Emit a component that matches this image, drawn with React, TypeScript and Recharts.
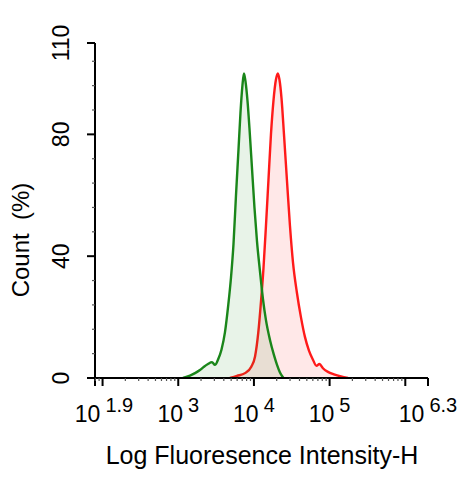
import React from 'react';
import { ComposedChart, Area, XAxis, YAxis } from 'recharts';

// Log10 of fluorescence intensity and Count (%) for each histogram
const greenLogX = [3.062, 3.155, 3.221, 3.287, 3.34, 3.393, 3.446, 3.485, 3.525, 3.571, 3.617, 3.661, 3.697, 3.73, 3.763, 3.796, 3.822, 3.848, 3.868, 3.888, 3.915, 3.941, 3.974, 4.007, 4.04, 4.08, 4.119, 4.159, 4.212, 4.265, 4.304, 4.344, 4.39];
const greenCount = [0, 0.8, 1.6, 2.6, 3.7, 4.6, 5.2, 4.3, 6, 9.3, 15, 24, 33, 44, 60, 75, 87, 96, 100, 97.5, 91, 82, 69, 56, 45, 35, 26, 19, 12.5, 7.5, 4.4, 1.8, 0];

const redLogX = [3.683, 3.776, 3.882, 3.967, 4.014, 4.057, 4.093, 4.126, 4.159, 4.192, 4.225, 4.258, 4.291, 4.316, 4.337, 4.364, 4.397, 4.436, 4.476, 4.516, 4.568, 4.621, 4.674, 4.727, 4.78, 4.826, 4.866, 4.912, 4.978, 5.057, 5.15, 5.242];
const redCount = [0, 0.7, 1.6, 3.8, 7, 14.8, 25, 36, 50, 65, 80, 91, 98, 100, 98, 92, 80, 65, 50, 38, 28, 20, 13.5, 9, 6, 4, 4.6, 3.2, 2, 1.2, 0.5, 0];

const xLabelExps = [1.9, 3, 4, 5, 6.3];
const xLabelTexts = ['1.9', '3', '4', '5', '6.3'];
const xMajorExps = [1.9, 2, 3, 4, 5, 6, 6.3];
const yLabelTicks = [0, 40, 80, 110];
const yLabelTexts = ['0', '40', '80', '110'];
const yMinorTicks = [8, 16, 24, 32, 48, 56, 64, 72, 88, 96, 104];

const xTitle = 'Log Fluoresence Intensity-H';
const yTitle = 'Count\u00A0\u00A0(%)';

const FONT = '"Liberation Sans", Arial, Helvetica, sans-serif';
const W = 476;
const H = 479;

function buildRows() {
  const map = new Map<number, any>();
  greenLogX.forEach((x, i) => {
    const r = map.get(x) ?? { x };
    r.green = greenCount[i];
    map.set(x, r);
  });
  redLogX.forEach((x, i) => {
    const r = map.get(x) ?? { x };
    r.red = redCount[i];
    map.set(x, r);
  });
  return Array.from(map.values()).sort((a, b) => a.x - b.x);
}

const rows = buildRows();

const xMinor: number[] = [];
for (let n = 1; n <= 6; n++) {
  for (let k = 2; k <= 9; k++) {
    const v = Math.round((n + Math.log10(k)) * 10000) / 10000;
    if (v > 1.9 && v < 6.3) xMinor.push(v);
  }
}
const xTicks = Array.from(new Set([...xMajorExps, ...xMinor])).sort((a, b) => a - b);
const yTicks = [...yMinorTicks, ...yLabelTicks].sort((a, b) => a - b);

const near = (a: number, b: number) => Math.abs(a - b) < 1e-6;

const XTick = (props: any) => {
  const { x, y, payload } = props;
  const v = payload.value;
  const major = xMajorExps.some((m) => near(m, v));
  const li = xLabelExps.findIndex((m) => near(m, v));
  const shift = li === 0 ? 9 : 0;
  return (
    <g>
      <line x1={x} x2={x} y1={y} y2={y + (major ? 8 : 3)} stroke={major ? '#000' : '#555'} strokeWidth={major ? 2 : 1.2} />
      {li >= 0 && (
        <text x={x + shift} y={y + 44} textAnchor="middle" fontFamily={FONT} fill="#000">
          <tspan fontSize={23}>10</tspan>
          <tspan fontSize={20} dx={5} dy={-10}>{xLabelTexts[li]}</tspan>
        </text>
      )}
    </g>
  );
};

const YTick = (props: any) => {
  const { x, y, payload } = props;
  const v = payload.value;
  const li = yLabelTicks.findIndex((m) => near(m, v));
  const major = li >= 0;
  const cx = x - 34;
  return (
    <g>
      <line x1={x} x2={x - (major ? 8 : 3)} y1={y} y2={y} stroke={major ? '#000' : '#555'} strokeWidth={major ? 2 : 1.2} />
      {major && (
        <text
          x={cx}
          y={y}
          dy="0.35em"
          textAnchor="middle"
          fontSize={23}
          fontFamily={FONT}
          fill="#000"
          transform={`rotate(-90, ${cx}, ${y})`}
        >
          {yLabelTexts[li]}
        </text>
      )}
    </g>
  );
};

export default function App() {
  return (
    <div style={{ position: 'absolute', left: 0, top: 0, width: W, height: H, background: '#fff' }}>
      <ComposedChart width={W} height={H} data={rows} margin={{ top: 43, right: 48, bottom: 0, left: 0 }}>
        <XAxis
          dataKey="x"
          type="number"
          domain={[1.9, 6.3]}
          allowDataOverflow
          ticks={xTicks}
          interval={0}
          tick={<XTick />}
          tickLine={false}
          tickSize={0}
          tickMargin={0}
          height={101}
          axisLine={{ stroke: '#000', strokeWidth: 2 }}
        />
        <YAxis
          type="number"
          domain={[0, 110]}
          allowDataOverflow
          ticks={yTicks}
          interval={0}
          tick={<YTick />}
          tickLine={false}
          tickSize={0}
          tickMargin={0}
          width={95}
          axisLine={{ stroke: '#000', strokeWidth: 2 }}
        />
        <Area
          type="monotone"
          dataKey="red"
          stroke="#ff1a1a"
          strokeWidth={2.4}
          fill="#ff1a1a"
          fillOpacity={0.1}
          connectNulls
          dot={false}
          activeDot={false}
          isAnimationActive={false}
        />
        <Area
          type="monotone"
          dataKey="green"
          stroke="#1a861a"
          strokeWidth={2.4}
          fill="#1f8a1f"
          fillOpacity={0.1}
          connectNulls
          dot={false}
          activeDot={false}
          isAnimationActive={false}
        />
      </ComposedChart>
      <svg width={W} height={H} style={{ position: 'absolute', left: 0, top: 0, pointerEvents: 'none' }}>
        <text x={262} y={464} textAnchor="middle" fontSize={25} fontFamily={FONT} fill="#000">
          {xTitle}
        </text>
        <text
          x={21}
          y={240}
          dy="0.35em"
          textAnchor="middle"
          fontSize={24}
          fontFamily={FONT}
          fill="#000"
          transform="rotate(-90, 21, 240)"
        >
          {yTitle}
        </text>
      </svg>
    </div>
  );
}
